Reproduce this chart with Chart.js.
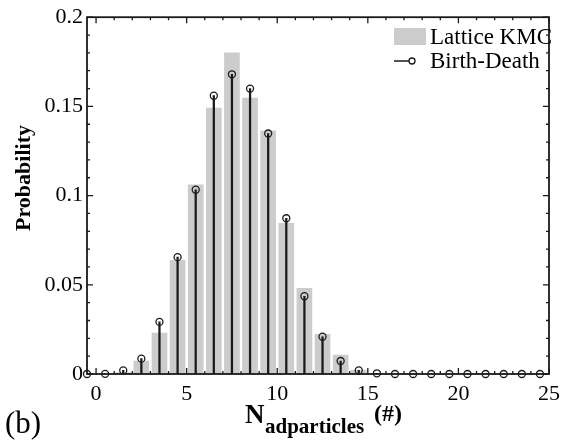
<!DOCTYPE html>
<html>
<head>
<meta charset="utf-8">
<script src="https://cdn.jsdelivr.net/npm/chart.js@4"></script>
<style>
  html, body { margin: 0; padding: 0; background: #fff; }
  #wrap { width: 567px; height: 440px; }
</style>
</head>
<body>
<div id="wrap"><canvas id="chart" width="567" height="440"></canvas></div>
<script>
"use strict";

// ── Data ────────────────────────────────────────────────────────────────────
const N_POS = [-0.5, 0.5, 1.5, 2.5, 3.5, 4.5, 5.5, 6.5, 7.5, 8.5, 9.5, 10.5, 11.5,
               12.5, 13.5, 14.5, 15.5, 16.5, 17.5, 18.5, 19.5, 20.5, 21.5, 22.5, 23.5, 24.5];
const KMC = [0, 0, 0.0008, 0.0073, 0.0229, 0.0637, 0.106, 0.149, 0.180, 0.1547, 0.1363, 0.0844, 0.048,
             0.0222, 0.0106, 0.0022, 0.0003, 0, 0, 0, 0, 0, 0, 0, 0, 0];
const BIRTH_DEATH = [0, 0.0001, 0.002, 0.0086, 0.0292, 0.0655, 0.1033, 0.156, 0.168, 0.160, 0.1348, 0.0873, 0.0436,
                     0.0209, 0.0073, 0.002, 0.0004, 0, 0, 0, 0, 0, 0, 0, 0, 0];
const X_TICKS = [0, 5, 10, 15, 20, 25];
const Y_TICKS = [0, 0.05, 0.1, 0.15, 0.2];
const X_MINOR = 1;
const Y_MINOR = 0.01;

const SERIF = "'Liberation Serif', 'DejaVu Serif', serif";
const INK = "#1a1a1a";
const BAR_GREY = "#cccccc";

// ── Frame with inward ticks on all four sides ───────────────────────────────
const framePlugin = {
  id: "frame",
  afterDatasetsDraw(chart) {
    const { ctx, chartArea: a, scales: { x, y } } = chart;
    ctx.save();
    ctx.strokeStyle = INK;
    ctx.lineWidth = 1.8;
    ctx.strokeRect(a.left, a.top, a.right - a.left, a.bottom - a.top);
    ctx.lineWidth = 1.3;
    ctx.beginPath();
    for (let v = 0; v <= 25 + 1e-9; v += X_MINOR) {
      const px = x.getPixelForValue(v);
      const len = Math.abs(v % 5) < 1e-9 ? 6 : 3;
      ctx.moveTo(px, a.bottom); ctx.lineTo(px, a.bottom - len);
      ctx.moveTo(px, a.top);    ctx.lineTo(px, a.top + len);
    }
    for (let i = 0; i <= 20; i++) {
      const v = i * Y_MINOR;
      const py = y.getPixelForValue(v);
      const len = i % 5 === 0 ? 6 : 3;
      ctx.moveTo(a.left, py);  ctx.lineTo(a.left + len, py);
      ctx.moveTo(a.right, py); ctx.lineTo(a.right - len, py);
    }
    ctx.stroke();
    ctx.restore();
  },
  afterDraw(chart) {
    const { ctx } = chart;
    ctx.save();

    // legend
    ctx.fillStyle = BAR_GREY;
    ctx.fillRect(394, 28, 32, 17);
    ctx.fillStyle = "#000";
    ctx.font = "23px " + SERIF;
    ctx.textBaseline = "middle";
    ctx.textAlign = "left";
    ctx.fillText(chart.data.datasets[2].label, 430, 38);
    ctx.fillText(chart.data.datasets[0].label, 430, 62);
    ctx.strokeStyle = INK;
    ctx.lineWidth = 1.5;
    ctx.beginPath();
    ctx.moveTo(394, 61); ctx.lineTo(409, 61);
    ctx.stroke();
    ctx.lineWidth = 1.3;
    ctx.beginPath();
    ctx.arc(412, 61, 3, 0, Math.PI * 2);
    ctx.stroke();

    // y title
    ctx.save();
    ctx.translate(24, 178);
    ctx.rotate(-Math.PI / 2);
    ctx.textAlign = "center";
    ctx.font = "bold 22px " + SERIF;
    ctx.fillText("Probability", 0, 0);
    ctx.restore();

    // x title with subscript
    ctx.textBaseline = "alphabetic";
    ctx.textAlign = "left";
    ctx.font = "bold 27px " + SERIF;
    ctx.fillText("N", 245, 423);
    ctx.font = "bold 21px " + SERIF;
    ctx.fillText("adparticles", 265, 433);
    ctx.font = "bold 24px " + SERIF;
    ctx.fillText("(#)", 374, 421);

    // panel tag
    ctx.font = "31px " + SERIF;
    ctx.fillText("(b)", 5, 433);
    ctx.restore();
  },
};

const xy = vals => N_POS.map((n, i) => ({ x: n, y: vals[i] }));

new Chart(document.getElementById("chart"), {
  type: "bar",
  data: {
    datasets: [
      {
        type: "scatter",
        label: "Birth-Death",
        data: xy(BIRTH_DEATH),
        pointRadius: 3.5,
        pointHoverRadius: 3.5,
        pointBorderWidth: 1.3,
        pointBorderColor: INK,
        pointBackgroundColor: "rgba(0,0,0,0)",
        clip: false,
        order: 0,
      },
      {
        type: "bar",
        label: "stems",
        data: N_POS.map((n, i) => ({ x: n, y: [0, BIRTH_DEATH[i]] })),
        backgroundColor: INK,
        barThickness: 1.6,
        grouped: false,
        order: 1,
      },
      {
        type: "bar",
        label: "Lattice KMC",
        data: xy(KMC),
        backgroundColor: BAR_GREY,
        barThickness: 15,
        grouped: false,
        order: 2,
      },
    ],
  },
  options: {
    responsive: false,
    devicePixelRatio: 1,
    animation: false,
    events: [],
    layout: { padding: { top: 15, right: 12, left: 0, bottom: 0 } },
    plugins: { legend: { display: false }, tooltip: { enabled: false } },
    scales: {
      x: {
        type: "linear",
        min: -0.5,
        max: 25,
        offset: false,
        grid: { display: false, drawTicks: false },
        border: { display: false },
        afterBuildTicks: s => { s.ticks = X_TICKS.map(v => ({ value: v })); },
        afterFit: s => { s.height = 66; },
        ticks: {
          color: "#000",
          padding: 7,
          maxRotation: 0,
          font: { family: SERIF, size: 22 },
          callback: v => String(v),
        },
      },
      y: {
        min: 0,
        max: 0.2,
        grid: { display: false, drawTicks: false },
        border: { display: false },
        afterBuildTicks: s => { s.ticks = Y_TICKS.map(v => ({ value: v })); },
        afterFit: s => { s.width = 87; },
        ticks: {
          color: "#000",
          padding: 4,
          font: { family: SERIF, size: 22 },
          callback: v => String(Number(v.toFixed(2))),
        },
      },
    },
  },
  plugins: [framePlugin],
});
</script>
</body>
</html>
